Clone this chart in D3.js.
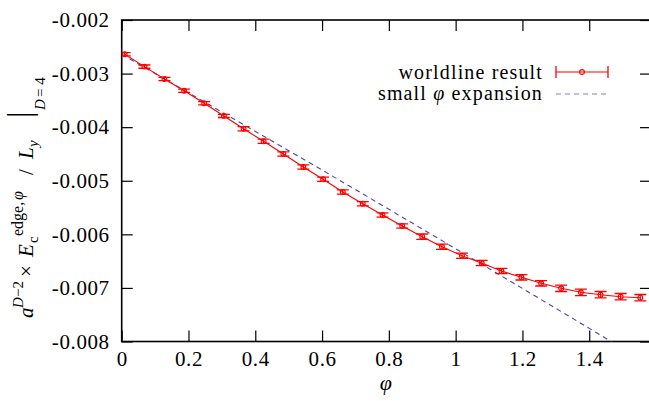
<!DOCTYPE html>
<html>
<head>
<meta charset="utf-8">
<script src="https://cdn.jsdelivr.net/npm/d3@7"></script>
<style>
  body { margin: 0; background: #fff; }
  svg { display: block; }
  text { font-family: "Liberation Serif", "Times New Roman", serif; }
</style>
</head>
<body>
<div id="chart"></div>
<script>
"use strict";

// worldline result
const phi = [0.009, 0.068, 0.128, 0.187, 0.247, 0.306, 0.365, 0.425, 0.484, 0.544,
             0.603, 0.662, 0.722, 0.781, 0.840, 0.900, 0.959, 1.019, 1.078, 1.137,
             1.197, 1.256, 1.316, 1.375, 1.434, 1.494, 1.553];
const energy = [-0.00264, -0.00287, -0.00310, -0.00332, -0.003555, -0.00379, -0.00403, -0.004264, -0.0045, -0.004743,
                -0.004973, -0.00521, -0.005428, -0.005639, -0.005844, -0.006044, -0.006231, -0.006399, -0.006535, -0.006684,
                -0.006802, -0.006914, -0.007007, -0.007082, -0.007127, -0.007164, -0.007183];
const energyErr = [0.00003, 0.00003, 0.00003, 0.00003, 0.00003, 0.00003, 0.00004, 0.00004, 0.00004, 0.00004,
                   0.00004, 0.00004, 0.00004, 0.00004, 0.00004, 0.00005, 0.00005, 0.00005, 0.00005, 0.00005,
                   0.00005, 0.00005, 0.00006, 0.00006, 0.00006, 0.00006, 0.00006];

// small phi expansion
const expPhi = [0, 0.3, 0.6, 0.9, 1.2, 1.5, 1.6];
const expEnergy = [-0.00264, -0.00372, -0.00480, -0.00590, -0.00701, -0.00813, -0.00851];

const xTicks = [0, 0.2, 0.4, 0.6, 0.8, 1, 1.2, 1.4];
const xTickLabels = ["0", "0.2", "0.4", "0.6", "0.8", "1", "1.2", "1.4"];
const yTicks = [-0.008, -0.007, -0.006, -0.005, -0.004, -0.003, -0.002];
const yTickLabels = ["-0.008", "-0.007", "-0.006", "-0.005", "-0.004", "-0.003", "-0.002"];

const legendLabels = ["worldline result", "small \u03c6 expansion"];

const W = 649, H = 401;
const plotLeft = 121.7, plotRight = 651, plotTop = 20, plotBottom = 341.5;

const svg = d3.select("#chart").append("svg")
    .attr("width", W)
    .attr("height", H);

const x = d3.scaleLinear().domain([0, 1.585]).range([plotLeft, plotRight]);
const y = d3.scaleLinear().domain([-0.008, -0.002]).range([plotBottom, plotTop]);

svg.append("defs").append("clipPath").attr("id", "plot-clip")
    .append("rect")
    .attr("x", plotLeft).attr("y", plotTop)
    .attr("width", plotRight - plotLeft).attr("height", plotBottom - plotTop);

// axes with inward ticks (mirrored on top and right)
const tickLen = 11;

function styleAxis(g) {
    g.select(".domain").remove();
    g.selectAll(".tick line").attr("stroke", "#000").attr("stroke-width", 1.2);
    g.selectAll(".tick text")
        .attr("fill", "#000")
        .attr("font-size", 21)
        .attr("letter-spacing", 0.6)
        .style("font-family", "'Liberation Serif', serif");
}

svg.append("g")
    .attr("transform", "translate(0," + plotBottom + ")")
    .call(d3.axisBottom(x).tickValues(xTicks).tickSize(-tickLen).tickPadding(10)
        .tickFormat(function(d, i) { return xTickLabels[i]; }))
    .call(styleAxis);

svg.append("g")
    .attr("transform", "translate(0," + plotTop + ")")
    .call(d3.axisTop(x).tickValues(xTicks).tickSize(-tickLen).tickFormat(""))
    .call(styleAxis);

svg.append("g")
    .attr("transform", "translate(" + plotLeft + ",0)")
    .call(d3.axisLeft(y).tickValues(yTicks).tickSize(-tickLen).tickPadding(12)
        .tickFormat(function(d, i) { return yTickLabels[i]; }))
    .call(styleAxis);

svg.append("g")
    .attr("transform", "translate(" + plotRight + ",0)")
    .call(d3.axisRight(y).tickValues(yTicks).tickSize(-tickLen).tickFormat(""))
    .call(styleAxis);

// frame
svg.append("rect")
    .attr("x", plotLeft).attr("y", plotTop)
    .attr("width", plotRight - plotLeft).attr("height", plotBottom - plotTop)
    .attr("fill", "none")
    .attr("stroke", "#000")
    .attr("stroke-width", 1.6);

const plot = svg.append("g").attr("clip-path", "url(#plot-clip)");

// small phi expansion (dashed)
const expData = expPhi.map(function(p, i) { return [p, expEnergy[i]]; });
plot.append("path")
    .datum(expData)
    .attr("fill", "none")
    .attr("stroke", "#4848a8")
    .attr("stroke-width", 1.1)
    .attr("stroke-dasharray", "5,4")
    .attr("d", d3.line()
        .curve(d3.curveMonotoneX)
        .x(function(d) { return x(d[0]); })
        .y(function(d) { return y(d[1]); }));

// worldline result
const wlData = phi.map(function(p, i) { return { p: p, e: energy[i], err: energyErr[i] }; });
const red = "#ff0000";

plot.append("path")
    .datum(wlData)
    .attr("fill", "none")
    .attr("stroke", red)
    .attr("stroke-width", 1.1)
    .attr("d", d3.line()
        .x(function(d) { return x(d.p); })
        .y(function(d) { return y(d.e); }));

const capHalf = 6;
const pts = plot.selectAll("g.pt")
    .data(wlData)
    .enter().append("g")
    .attr("class", "pt");

pts.append("line")
    .attr("x1", function(d) { return x(d.p); })
    .attr("x2", function(d) { return x(d.p); })
    .attr("y1", function(d) { return y(d.e - d.err); })
    .attr("y2", function(d) { return y(d.e + d.err); })
    .attr("stroke", red).attr("stroke-width", 1.2);

[-1, 1].forEach(function(s) {
    pts.append("line")
        .attr("x1", function(d) { return x(d.p) - capHalf; })
        .attr("x2", function(d) { return x(d.p) + capHalf; })
        .attr("y1", function(d) { return y(d.e + s * d.err); })
        .attr("y2", function(d) { return y(d.e + s * d.err); })
        .attr("stroke", red).attr("stroke-width", 1.3);
});

pts.append("circle")
    .attr("cx", function(d) { return x(d.p); })
    .attr("cy", function(d) { return y(d.e); })
    .attr("r", 2.4)
    .attr("fill", "none")
    .attr("stroke", red)
    .attr("stroke-width", 1.1);

// legend
const legend = svg.append("g").attr("class", "legend");
const legX1 = 556, legX2 = 608, legTextX = 543;

legend.append("text")
    .attr("x", legTextX).attr("y", 78.5)
    .attr("text-anchor", "end")
    .attr("font-size", 20)
    .attr("letter-spacing", 1.15)
    .text(legendLabels[0]);

legend.append("line")
    .attr("x1", legX1).attr("x2", legX2).attr("y1", 72).attr("y2", 72)
    .attr("stroke", red).attr("stroke-width", 1.2);
[legX1, legX2].forEach(function(lx) {
    legend.append("line")
        .attr("x1", lx).attr("x2", lx).attr("y1", 66).attr("y2", 78)
        .attr("stroke", red).attr("stroke-width", 1.3);
});
legend.append("circle")
    .attr("cx", (legX1 + legX2) / 2).attr("cy", 72).attr("r", 2.4)
    .attr("fill", "none").attr("stroke", red).attr("stroke-width", 1.1);

const leg2 = legend.append("text")
    .attr("x", legTextX).attr("y", 99.5)
    .attr("text-anchor", "end")
    .attr("font-size", 20)
    .attr("letter-spacing", 1.15);
leg2.append("tspan").text("small ");
leg2.append("tspan").attr("font-style", "italic").text("\u03c6");
leg2.append("tspan").text(" expansion");

legend.append("line")
    .attr("x1", legX1).attr("x2", legX2).attr("y1", 94).attr("y2", 94)
    .attr("stroke", "#8080c4").attr("stroke-width", 1.1)
    .attr("stroke-dasharray", "5,4");

// x label
svg.append("text")
    .attr("x", (plotLeft + 650) / 2).attr("y", 390)
    .attr("text-anchor", "middle")
    .attr("font-size", 22)
    .attr("font-style", "italic")
    .text("\u03c6");

// y label, laid out piece by piece along the rotated baseline
const yl = svg.append("text")
    .attr("transform", "translate(33,318) rotate(-90)")
    .attr("font-size", 21);
function piece(str, px, py, size, italic) {
    const t = yl.append("tspan").attr("x", px).attr("y", py).attr("font-size", size).text(str);
    if (italic) { t.attr("font-style", "italic"); }
    return t;
}
piece("a", 0, 0, 21, true);
piece("D", 10, -10, 15, true);
piece("\u22122", 21, -10, 15, false);
piece("\u00d7", 41, 0, 21, false);
piece("E", 61, 0, 21, true);
piece("c", 75, 5, 15, false);
piece("edge,", 82, -10, 16, false);
piece("\u03c6", 118, -10, 16, true);
piece("/", 143, 0, 21, false);
piece("L", 159, 0, 21, true);
piece("y", 171, 5, 15, true);
piece("|", 200, -2, 33, false);
piece("D", 208, 12, 15, true);
piece("= 4", 221, 12, 15, false);
</script>
</body>
</html>
